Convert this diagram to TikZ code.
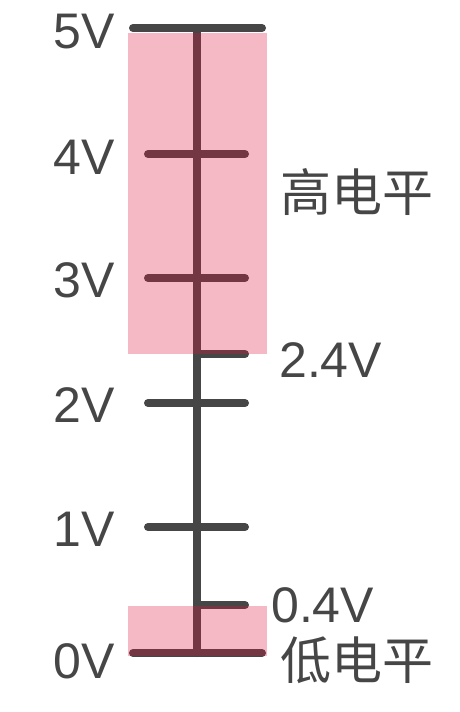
\documentclass[tikz,border=0pt]{standalone}
\usepackage{fontspec}
\setmainfont{Liberation Sans}
\newfontfamily\cjk{Noto Sans CJK SC}
\definecolor{ink}{HTML}{464646}
\definecolor{bandc}{RGB}{219,22,62}
\begin{document}
\begin{tikzpicture}[x=1pt,y=-1pt,
  axisline/.style={draw=ink,line width=8pt,line cap=round},
  lab/.style={text=ink,font=\fontsize{50}{50}\selectfont,inner sep=0pt},
  cjklab/.style={text=ink,font=\cjk\fontsize{51}{51}\selectfont,inner sep=0pt},
  bandbox/.style={fill=bandc,fill opacity=0.3,draw=none}]
\useasboundingbox (0,0) rectangle (459,712);
% axis
\coordinate (top) at (197,28);
\coordinate (bot) at (197,653);
\draw[axisline] (top) -- (bot);
% ticks
\coordinate (t5a) at (133,28);  \coordinate (t5b) at (262,28);
\coordinate (t4a) at (148,154); \coordinate (t4b) at (245,154);
\coordinate (t3a) at (148,278); \coordinate (t3b) at (245,278);
\coordinate (t24a) at (197,354); \coordinate (t24b) at (245,354);
\coordinate (t2a) at (148,403); \coordinate (t2b) at (245,403);
\coordinate (t1a) at (148,527); \coordinate (t1b) at (245,527);
\coordinate (t04a) at (197,605); \coordinate (t04b) at (245,605);
\coordinate (t0a) at (133,653); \coordinate (t0b) at (262,653);
\foreach \t in {5,4,3,24,2,1,04,0} \draw[axisline] (t\t a) -- (t\t b);
% bands
\path[bandbox] (128,33) rectangle (267,354);
\path[bandbox] (128,606) rectangle (267,656);
% labels
\node[lab,anchor=east] (l5) at (115,32) {5V};
\node[lab,anchor=east] (l4) at (115,157) {4V};
\node[lab,anchor=east] (l3) at (115,280) {3V};
\node[lab,anchor=east] (l2) at (115,405) {2V};
\node[lab,anchor=east] (l1) at (115,529) {1V};
\node[lab,anchor=east] (l0) at (115,661) {0V};
\node[lab,anchor=west] (l24) at (279,360) {2.4V};
\node[lab,anchor=west] (l04) at (271,605) {0.4V};
\node[cjklab,anchor=west] (hi) at (280,192) {高电平};
\node[cjklab,anchor=west] (lo) at (280,660) {低电平};
\end{tikzpicture}
\end{document}
